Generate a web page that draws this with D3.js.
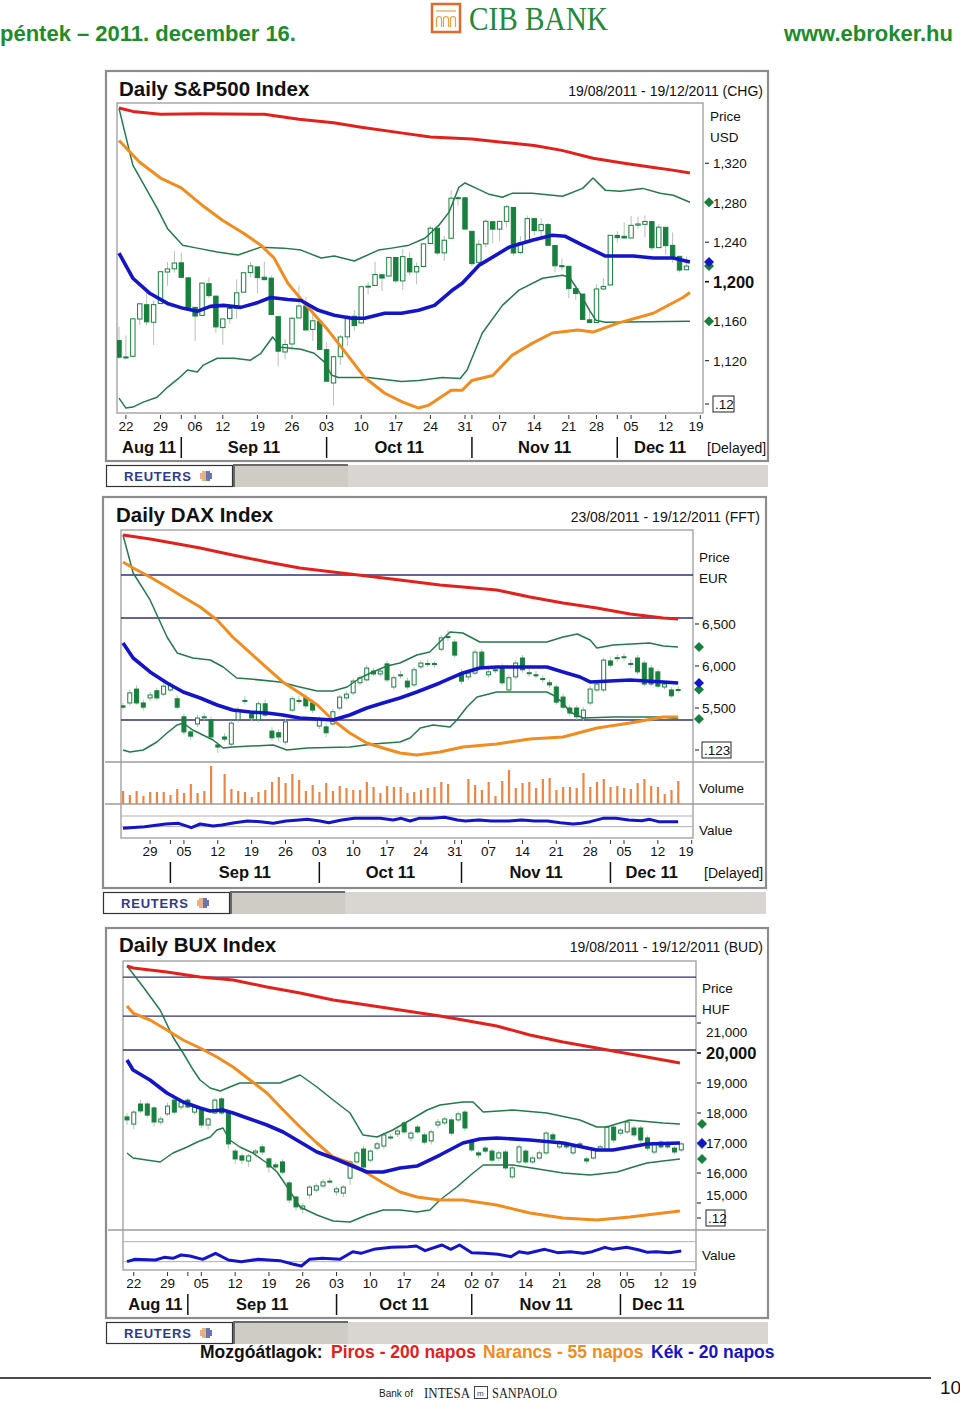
<!DOCTYPE html>
<html><head><meta charset="utf-8">
<script src="https://cdn.jsdelivr.net/npm/d3@7"></script>
<style>body{margin:0;background:#fff}svg{display:block}</style>
</head><body>
<svg id="c" width="960" height="1403"></svg>
<script>
// ===================== DATA =====================
// S&P500 daily candles [open, high, low, close], 19 Aug - 15 Dec 2011 (trading-day index 0..82)
const spCandles = [
[1140.5,1154.5,1122.0,1123.5],[1123.6,1145.5,1121.1,1123.8],[1124.4,1162.4,1124.4,1162.4],[1162.2,1178.6,1156.3,1177.6],
[1176.7,1190.7,1155.5,1159.3],[1158.9,1181.2,1135.9,1176.8],[1177.9,1210.1,1177.9,1210.1],[1209.8,1220.1,1195.8,1212.9],
[1213.0,1230.7,1209.4,1218.9],[1219.1,1229.3,1203.9,1204.4],[1203.9,1203.9,1170.6,1174.0],[1174.0,1174.0,1140.1,1165.2],
[1165.9,1198.6,1165.9,1198.6],[1198.0,1204.4,1183.3,1185.9],[1185.4,1185.4,1148.4,1154.2],[1153.5,1162.5,1136.1,1162.3],
[1162.6,1176.4,1157.4,1172.9],[1173.3,1202.4,1162.7,1188.7],[1189.4,1209.1,1189.4,1209.1],[1209.2,1220.1,1204.5,1216.0],
[1215.0,1215.0,1188.4,1204.1],[1204.5,1220.4,1201.3,1202.1],[1203.6,1206.3,1166.2,1166.8],[1164.6,1164.6,1114.2,1129.6],
[1128.8,1141.7,1121.4,1136.4],[1136.9,1164.2,1131.1,1163.0],[1163.3,1195.9,1163.3,1175.4],[1175.4,1184.7,1150.4,1151.1],
[1151.7,1175.9,1139.9,1160.4],[1159.9,1159.9,1131.3,1131.4],[1131.2,1139.0,1098.9,1099.2],[1097.4,1125.1,1074.8,1124.0],
[1124.0,1146.1,1115.7,1144.0],[1144.1,1165.6,1135.0,1165.0],[1165.0,1171.4,1150.3,1155.5],[1158.2,1194.9,1158.2,1194.9],
[1194.6,1199.2,1187.3,1195.5],[1196.2,1220.3,1196.2,1207.3],[1207.0,1207.5,1190.6,1203.7],[1205.7,1224.6,1205.7,1224.6],
[1224.5,1224.5,1198.6,1200.9],[1200.8,1233.1,1191.5,1225.4],[1223.5,1229.6,1206.3,1209.9],[1209.9,1219.5,1197.3,1215.4],
[1215.4,1239.0,1215.4,1238.3],[1238.7,1256.6,1238.7,1254.2],[1254.2,1254.2,1226.8,1229.1],[1229.2,1246.3,1221.1,1242.0],
[1244.0,1292.7,1244.0,1284.6],[1284.4,1287.1,1277.0,1285.1],[1285.0,1285.0,1253.2,1253.3],[1251.0,1251.0,1215.4,1218.3],
[1219.6,1242.5,1219.6,1237.9],[1238.3,1263.2,1234.8,1261.2],[1260.8,1260.8,1238.9,1253.2],[1253.2,1261.7,1240.8,1261.1],
[1261.1,1277.6,1255.0,1275.9],[1275.2,1275.2,1226.6,1229.1],[1229.6,1246.2,1227.7,1239.7],[1240.1,1267.0,1240.1,1263.9],
[1263.9,1263.9,1246.7,1251.8],[1251.7,1264.3,1244.3,1257.8],[1257.8,1259.6,1235.7,1236.9],[1236.6,1237.7,1209.4,1216.1],
[1216.2,1223.5,1211.4,1215.7],[1215.6,1215.6,1183.2,1193.0],[1193.0,1196.8,1181.7,1188.0],[1187.5,1187.5,1161.8,1161.8],
[1161.4,1172.7,1158.7,1158.7],[1158.7,1197.4,1158.7,1192.6],[1192.6,1203.7,1191.8,1195.2],[1196.7,1247.1,1196.7,1247.0],
[1246.9,1251.1,1239.7,1244.6],[1246.0,1260.1,1243.4,1244.3],[1244.3,1266.7,1244.3,1257.1],[1257.2,1266.0,1253.0,1258.5],
[1258.1,1267.1,1244.8,1261.0],[1260.9,1260.9,1231.5,1234.4],[1234.5,1258.3,1234.5,1255.2],[1255.1,1255.1,1227.3,1236.5],
[1236.8,1249.9,1219.4,1225.7],[1225.7,1225.7,1209.5,1211.8],[1212.1,1225.6,1212.1,1215.8]
];
// moving averages / bands: [trading-day index, value]
const spMA200 = [[0,1376],[2,1372.5],[6,1369.5],[12,1370],[21,1369.5],[23,1367.5],[26,1364.5],[31,1361],[35,1356.5],[41,1350.5],[45,1346.5],[48,1345.5],[51,1344.5],[55,1341.5],[60,1338],[64,1333],[68.5,1325],[73,1320],[77,1316],[80,1313],[82.5,1310]];
const spMA55 = [[0,1343],[3,1321],[6,1305],[9,1295],[12,1277.5],[15,1262],[18,1249],[20.5,1237],[22.4,1224],[24.4,1198.5],[27.3,1174],[30.2,1151],[32.1,1134],[35.5,1103],[38.4,1087],[41,1078],[43.3,1072],[44.8,1075],[48,1090],[49.6,1090],[51,1100],[54,1105],[56.8,1125.5],[59.7,1137.5],[62.6,1148],[66.3,1151],[68.5,1149],[72.1,1158],[77.2,1168],[81.5,1184],[82.5,1189]];
const spMA20 = [[0,1229],[2,1203.5],[4.5,1188],[7,1178],[9.3,1173],[11.3,1170],[13.2,1175],[15.1,1176],[17.6,1174],[20.1,1179],[21.9,1184],[24.4,1182],[26.3,1181],[28.8,1171],[31.1,1166],[33.6,1163],[35.5,1163],[38.4,1168],[40.8,1168],[43.3,1171],[45.6,1176],[48.1,1191],[49.6,1198.5],[52,1216.5],[56.4,1235],[59.7,1242],[62.6,1247],[64.5,1246],[67,1237],[70.3,1226],[74.3,1226],[77.2,1224],[80.1,1224],[82.5,1220]];
const spBBUpper = [[0,1375.5],[2,1318],[5.5,1274.5],[7,1254],[9.2,1237],[11.3,1234],[14.2,1230],[17.2,1227],[20.5,1235],[23.8,1234],[26.3,1232],[29.2,1224],[31.1,1226],[34,1221],[37.5,1232],[39.4,1234],[41.9,1237],[44.2,1244],[46.2,1257],[47.7,1270.5],[49.1,1295.5],[50,1300],[51.5,1295],[53.5,1288.5],[55.4,1285.5],[56.8,1289.5],[59.7,1289.5],[64.1,1286.5],[67,1294.5],[68.5,1305],[70.3,1292.5],[72.4,1291.5],[75.7,1294.5],[78.2,1289.5],[80.1,1287.5],[82.5,1280.5]];
const spBBLower = [[0,1082],[1,1072],[2,1073],[3.5,1078],[5.5,1083],[7,1093],[8.6,1102],[9.9,1110.5],[11.3,1108.5],[12.2,1115.5],[14.2,1122.5],[16.6,1122.5],[19,1120.5],[20.5,1127.5],[22.2,1144],[23.4,1133.5],[26.3,1131.5],[28.2,1127.5],[29.7,1118.5],[30.7,1105.5],[31.7,1103],[36,1103],[40.8,1099],[43.3,1100],[46.7,1103],[49.3,1102],[50.3,1110.5],[52.5,1148],[55.4,1176],[57.8,1191.5],[61.2,1203.5],[64.1,1206.5],[65.1,1204.5],[66.6,1188.5],[68,1171],[68.9,1161],[70.3,1159],[82.5,1160]];
const spPriceTicks = [1320,1280,1240,1200,1160,1120];
const spBoldTick = 1200;
const spDayLabels = ["22","29","06","12","19","26","03","10","17","24","31","07","14","21","28","05","12","19"];
const spDayIdx = [1,6,11,15,20,25,30,35,40,45,50,55,60,65,69,74,79,84];
const spMonthLabels = ["Aug 11","Sep 11","Oct 11","Nov 11","Dec 11"];
const spMonthStart = [9,30,51,72];

// DAX candles [open, high, low, close], 23 Aug - 15 Dec 2011
const daxCandles = [
[5525,5560,5480,5510],[5560,5720,5530,5680],[5725,5770,5540,5560],[5560,5600,5470,5510],[5620,5690,5580,5655],
[5705,5740,5590,5620],[5665,5790,5640,5760],[5715,5810,5690,5775],[5610,5650,5480,5510],[5395,5430,5180,5215],
[5215,5260,5120,5165],[5310,5420,5270,5380],[5385,5440,5350,5395],[5360,5400,5120,5155],[5060,5100,4965,5035],
[5155,5200,5100,5130],[5070,5350,5040,5320],[5360,5510,5330,5475],[5580,5640,5540,5590],[5430,5470,5340,5380],
[5360,5580,5330,5550],[5550,5600,5390,5415],[5225,5270,5110,5145],[5205,5250,5100,5155],[5095,5370,5060,5335],
[5475,5640,5450,5610],[5590,5650,5550,5580],[5620,5670,5490,5525],[5560,5600,5440,5475],[5285,5400,5250,5370],
[5275,5320,5150,5205],[5310,5490,5280,5455],[5500,5660,5470,5630],[5620,5700,5590,5665],[5680,5850,5650,5820],
[5800,5890,5770,5860],[5835,6010,5810,5975],[5940,5980,5880,5905],[5905,5970,5870,5940],[6025,6060,5810,5835],
[5750,5890,5720,5860],[5890,5940,5850,5895],[5820,5860,5720,5750],[5775,5990,5750,5955],[5990,6070,5960,6035],
[6030,6080,5990,6020],[6020,6060,5980,6030],[6200,6370,6170,6335],[6340,6430,6300,6350],[6285,6320,6100,6130],
[5915,5960,5780,5820],[5870,5950,5830,5915],[5915,6200,5890,6165],[6165,6200,5960,5990],[5895,5970,5860,5930],
[5950,6000,5910,5955],[5990,6030,5770,5800],[5715,5890,5690,5860],[5870,6070,5840,6035],[6095,6130,5920,5955],
[5915,5970,5870,5920],[5895,5940,5850,5890],[5850,5890,5800,5845],[5800,5840,5740,5775],[5750,5780,5540,5570],
[5630,5670,5480,5510],[5500,5540,5410,5440],[5500,5530,5360,5395],[5380,5510,5350,5475],[5560,5760,5530,5725],
[5715,5820,5690,5785],[5715,6100,5690,6070],[6060,6110,5980,6010],[6090,6140,6050,6100],[6100,6150,6060,6110],
[6030,6080,5980,6020],[6095,6130,5900,5930],[6035,6070,5760,5785],[5975,6010,5760,5785],[5930,5960,5740,5760],
[5750,5820,5720,5785],[5715,5750,5620,5645],[5710,5760,5680,5720]
];
const daxMA200 = [[0,7560],[4,7512],[6.5,7476],[11.4,7405],[16.2,7321],[21.3,7238],[26.1,7167],[31,7119],[36,7071],[40.9,7024],[46.8,6964],[50.2,6940],[55.2,6905],[60.1,6821],[65,6750],[70,6690],[74.9,6619],[79.8,6571],[82,6560]];
const daxMA55 = [[0,7238],[1.5,7167],[4,7060],[6.5,6940],[8.9,6821],[11.4,6702],[13.9,6548],[16.2,6345],[18.8,6155],[21.3,5976],[23.6,5810],[26.1,5679],[28.7,5536],[31,5357],[33.5,5202],[36,5083],[38.4,5024],[40.9,4964],[43.4,4940],[46.8,4976],[50.2,5036],[55.2,5071],[60.1,5131],[65,5155],[70,5262],[74.9,5321],[79.8,5393],[82,5393]];
const daxMA20 = [[0,6274],[1.5,6095],[4,5929],[6.5,5798],[8.9,5690],[11.4,5619],[13.9,5536],[16.2,5476],[18.8,5452],[21.3,5440],[23.6,5417],[26.1,5381],[28.7,5369],[31,5357],[33.5,5417],[36,5500],[38.4,5560],[40.9,5619],[43.4,5690],[46.8,5798],[50.2,5917],[52.7,5976],[55.2,5988],[62.6,5988],[65,5929],[67.5,5869],[69,5810],[74.9,5833],[79.8,5810],[82,5798]];
const daxBBUpper = [[0,7559],[1.5,7107],[4,6786],[6.5,6345],[8,6155],[10.3,6095],[12.9,6071],[14.8,5988],[16.8,5857],[18.8,5845],[23.2,5810],[26.1,5750],[28.7,5702],[31,5702],[33.1,5750],[35,5857],[36.9,5929],[39,6000],[40.9,6036],[43.4,6131],[45.3,6167],[46.8,6286],[48.3,6405],[50.2,6393],[52.7,6286],[62.6,6286],[65,6345],[67.1,6381],[69,6310],[70,6214],[72.4,6250],[77.8,6274],[79.8,6238],[82,6226]];
const daxBBLower = [[0,5000],[1,4976],[3,5000],[5,5095],[6.5,5202],[8,5298],[8.9,5321],[10.3,5238],[11.8,5179],[13.3,5119],[14.8,5024],[16.2,5036],[22.2,5060],[24.2,5000],[27.2,5024],[33.5,5036],[36.9,5071],[40.9,5095],[42.4,5143],[43.9,5262],[45.8,5298],[48.3,5274],[49.3,5357],[50.8,5512],[52.3,5631],[55.2,5690],[62.6,5690],[63.5,5655],[65,5560],[66,5452],[68,5381],[72.4,5393],[79.8,5393],[82,5369]];
const daxLevels = [7083,6571,5357];
const daxVolume = [13,9,13,8,12,12,12,9,15,11,20,11,13,38,null,30,15,13,12,7,12,14,22,27,21,30,24,13,19,12,21,13,18,16,14,14,22,17,11,18,17,17,11,12,14,16,17,22,20,null,null,25,19,14,22,8,23,34,16,21,22,16,25,26,14,17,17,16,31,17,22,25,17,18,16,15,21,25,18,17,10,14,23];
const daxValue = [[0,29],[3.2,34],[6.3,42],[8.2,44],[10.1,31],[11.4,42],[13.3,36],[14.6,39],[16.5,46],[18.4,51],[20.3,49],[22.2,44],[24.1,51],[26,54],[27.2,56],[29.1,51],[30.4,46],[32.3,54],[34.2,59],[36.1,59],[38,59],[39.9,54],[41.1,59],[42.4,51],[43.7,59],[45.6,59],[47.5,62],[49.4,54],[50.6,51],[52.5,54],[54.4,51],[57,51],[58.9,54],[60.8,51],[62.7,51],[64.6,46],[66.5,42],[67.7,44],[69,49],[70.9,59],[72.8,59],[74.7,54],[76.6,52],[77.8,56],[79.1,49],[82,49]];
const daxValueRefs = [66,34];
const daxPriceTicks = [6500,6000,5500];
const daxDayLabels = ["29","05","12","19","26","03","10","17","24","31","07","14","21","28","05","12","19"];
const daxDayIdx = [4,9,14,19,24,29,34,39,44,49,54,59,64,69,74,79,84];
const daxMonthLabels = ["","Sep 11","Oct 11","Nov 11","Dec 11"];
const daxMonthStart = [7,29,50,72];

// BUX candles [open, high, low, close], 19 Aug - 15 Dec 2011
const buxCandles = [
[17870,18000,17600,17770],[17630,18100,17450,18030],[18300,18450,18000,18070],[18300,18380,17850,17930],[18170,18230,17550,17700],
[17700,17900,17600,17800],[17970,18350,17900,18230],[18430,18500,17950,18030],[18200,18470,18100,18370],[18430,18500,18150,18200],
[18030,18250,17950,18200],[18100,18150,17500,17600],[17600,17850,17450,17800],[18000,18500,17950,18430],[18470,18530,17950,18000],
[18000,18050,16800,16970],[16730,16800,16300,16470],[16570,16650,16300,16430],[16400,16650,16200,16570],[16670,16800,16550,16730],
[16870,16950,16600,16700],[16470,16520,16000,16200],[16270,16350,16100,16200],[16370,16450,15950,16030],[15670,15750,15000,15100],
[15200,15250,14750,14870],[14800,15000,14650,14900],[15270,15600,15150,15530],[15430,15650,15350,15570],[15570,15800,15500,15700],
[15730,15850,15650,15700],[15370,15550,15250,15470],[15330,15600,15200,15530],[15830,16450,15600,16370],[16370,16750,16300,16670],
[16800,16900,16100,16200],[16430,16800,16350,16730],[16830,17050,16750,16970],[16900,17350,16800,17270],[17200,17300,17100,17170],
[17300,17480,17200,17400],[17670,17750,17300,17370],[17170,17400,17050,17330],[17530,17600,17300,17370],[17270,17350,16950,17030],
[17070,17450,16950,17370],[17600,17800,17500,17700],[17670,17880,17600,17800],[17770,17850,17250,17330],[17770,18050,17700,17970],
[18030,18100,17400,17500],[17030,17100,16700,16770],[16670,16750,16500,16600],[16830,16900,16650,16730],[16730,16800,16350,16430],
[16500,16750,16400,16670],[16700,16780,16100,16170],[15870,16250,15800,16170],[16370,16950,16300,16870],[16730,16800,16300,16370],
[16370,16580,16300,16500],[16500,16750,16420,16670],[16670,17400,16600,17330],[17270,17350,17050,17130],[16870,17100,16800,17030],
[17000,17080,16800,16870],[16670,16950,16600,16870],[16970,17050,16880,16930],[16470,16550,16300,16400],[16500,16850,16450,16770],
[16770,16950,16700,16870],[16770,17600,16700,17530],[17530,17620,17000,17100],[17330,17500,17250,17430],[17370,17800,17300,17700],
[17500,17580,17200,17270],[17500,17570,17000,17100],[17170,17250,16750,16830],[16700,17050,16620,16970],[17030,17100,16800,16870],
[17000,17080,16800,16870],[16830,16900,16620,16700],[16770,17050,16700,16970]
];
const buxMA200 = [[0,22900],[0.9,22833],[5.9,22700],[10.8,22533],[15.7,22433],[20.7,22200],[25.6,22000],[30.5,21767],[35.5,21600],[40.4,21433],[46.3,21233],[49.7,21100],[54.7,20900],[59.6,20600],[64.5,20367],[69.5,20167],[71.9,20067],[76.9,19867],[81.8,19667]];
const buxMA55 = [[0,21567],[0.9,21333],[3.4,21100],[5.9,20767],[8.3,20433],[10.8,20167],[13.3,19867],[15.7,19533],[18.2,19100],[20.7,18667],[23.1,18100],[25.6,17533],[28.1,17000],[30.5,16533],[33,16333],[35.5,16000],[37.9,15667],[40.4,15367],[42.9,15200],[46.3,15100],[49.7,15100],[54.7,14933],[59.6,14667],[64.5,14500],[69.5,14433],[74.4,14533],[79.3,14667],[81.8,14733]];
const buxMA20 = [[0,19767],[0.9,19433],[3.4,19100],[5.9,18667],[8.3,18367],[10.8,18167],[12.3,18067],[14.2,18100],[15.7,18000],[18.2,17800],[20.7,17600],[23.1,17367],[25.6,17033],[28.1,16700],[30.5,16500],[33,16267],[35.5,16033],[37.9,16033],[40.4,16167],[42.9,16233],[46.3,16600],[49.7,17000],[52.2,17133],[54.7,17167],[59.6,17100],[64.5,17000],[69.5,16767],[71.9,16767],[76.9,16967],[81.8,17000]];
const buxBBUpper = [[0,22900],[2.4,22200],[4.9,21433],[6.8,20533],[8.3,20000],[9.8,19433],[10.8,19100],[12.3,18833],[13.8,18733],[15.2,18867],[16.7,19000],[22.6,19000],[25.6,19267],[28.1,18867],[30.5,18433],[33,18000],[34.9,17267],[37,17200],[39.3,17433],[41.9,17767],[44.4,18100],[46.3,18267],[49.7,18367],[51.2,18367],[52.7,18033],[57.1,18100],[62.1,18000],[67,17767],[69.5,17533],[71,17533],[71.9,17600],[74.4,17767],[79.3,17667],[81.8,17633]];
const buxBBLower = [[0,16667],[0.9,16500],[4.9,16367],[6.8,16667],[8.9,16867],[10.4,17033],[12.3,17200],[13.3,17433],[14.2,17500],[15.2,17100],[16.7,16867],[18.6,16667],[20.7,16333],[22.2,16033],[23.7,15533],[25.6,14867],[28.1,14600],[30.5,14400],[33,14367],[35.5,14600],[37.9,14767],[40.4,14767],[42.9,14700],[44.8,14767],[46.3,15100],[48.8,15533],[51.2,16000],[52.7,16267],[57.1,16267],[64.5,16000],[68.5,15933],[72.5,16033],[74.4,16167],[76.9,16333],[79.3,16400],[81.8,16467]];
const buxLevels = [22530,21230,20100];
const buxValue = [[0,25],[1.1,32],[4.2,30],[5.5,38],[6.8,35],[8,45],[9.3,42],[11.2,32],[13.1,50],[15,30],[16.9,25],[19.4,32],[22.6,28],[24.5,18],[25.8,12],[27,32],[28.9,35],[31.5,32],[33.4,55],[34.6,50],[36.5,62],[39.1,68],[41.6,70],[42.8,72],[44.1,58],[46.6,75],[47.9,62],[49.2,75],[51,52],[52.9,50],[54.9,47],[56.8,40],[58,55],[59.3,50],[61.8,62],[63.7,52],[65.6,55],[67.5,50],[68.8,55],[70.7,68],[71.9,62],[73.9,68],[75.8,60],[77,53],[78.3,55],[80.2,52],[82,57]];
const buxValueRefs = [85,25];
const buxPriceTicks = [21000,20000,19000,18000,17000,16000,15000];
const buxBoldTick = 20000;
const buxDayLabels = ["22","29","05","12","19","26","03","10","17","24","02","07","14","21","28","05","12","19"];
const buxDayIdx = [1,6,11,16,21,26,31,36,41,46,51,54,59,64,69,74,79,84];
const buxMonthLabels = ["Aug 11","Sep 11","Oct 11","Nov 11","Dec 11"];
const buxMonthStart = [9,31,51,73];

// ===================== DRAWING =====================
const FONT = '"Liberation Sans", Arial, Helvetica, sans-serif';
const C = {green:"#17803d", band:"#237a4a", red:"#e3211c", orange:"#f28c1e", blue:"#1414c8",
           navy:"#30307a", wick:"#b8c0bb", vol:"#ec8645", text:"#111"};
const svg = d3.select("#c").attr("font-family", FONT);
const defs = svg.append("defs");

function drawPanel(L, D, id){
  const g = svg.append("g");
  const P = L.plot;
  g.append("rect").attr("x",L.frame.x).attr("y",L.frame.y).attr("width",L.frame.w).attr("height",L.frame.h)
    .attr("fill","#fff").attr("stroke","#8c8c8c").attr("stroke-width",2.2);
  g.append("text").attr("x",L.titleX).attr("y",L.titleY).attr("font-size",20.5).attr("font-weight","bold")
    .attr("fill",C.text).text(D.title);
  g.append("text").attr("x",L.rangeX).attr("y",L.titleY).attr("text-anchor","end").attr("font-size",14)
    .attr("fill",C.text).text(D.range);

  const x = d3.scaleLinear().domain([0,84]).range(L.xRange);
  const y = d3.scaleLinear().domain(L.priceDomain).range([L.priceBottom, P.y0]);

  defs.append("clipPath").attr("id","clip"+id).append("rect")
    .attr("x",P.x0).attr("y",P.y0).attr("width",P.x1-P.x0).attr("height",L.priceBottom-P.y0);

  g.append("rect").attr("x",P.x0).attr("y",P.y0).attr("width",P.x1-P.x0).attr("height",P.y1-P.y0)
    .attr("fill","none").attr("stroke","#9c9c9c").attr("stroke-width",1.3);
  (L.separators||[]).forEach(sy=>{
    g.append("line").attr("x1",L.frame.x+2).attr("x2",L.frame.x+L.frame.w-2).attr("y1",sy).attr("y2",sy)
      .attr("stroke","#9c9c9c").attr("stroke-width",1.3);
  });

  const pg = g.append("g").attr("clip-path",`url(#clip${id})`);
  (D.levels||[]).forEach(v=>{
    pg.append("line").attr("x1",P.x0).attr("x2",P.x1).attr("y1",y(v)).attr("y2",y(v))
      .attr("stroke",C.navy).attr("stroke-width",1.4);
  });

  // candles
  const cw = L.candleW;
  D.candles.forEach((c,i)=>{
    const [o,h,l,cl] = c, cx = x(i);
    pg.append("line").attr("x1",cx).attr("x2",cx).attr("y1",y(h)).attr("y2",y(l))
      .attr("stroke",C.wick).attr("stroke-width",1);
    const top = y(Math.max(o,cl)), bot = y(Math.min(o,cl));
    const up = cl >= o;
    pg.append("rect").attr("x",cx-cw/2).attr("y",top).attr("width",cw).attr("height",Math.max(1,bot-top))
      .attr("fill", up ? "#fff" : C.green).attr("stroke",C.green).attr("stroke-width",1);
  });

  const line = d3.line().x(d=>x(d[0])).y(d=>y(d[1]));
  [[D.bbUp,C.band,1.5],[D.bbLow,C.band,1.5],[D.ma200,C.red,3],[D.ma55,C.orange,3],[D.ma20,C.blue,3.6]]
    .forEach(([data,col,w])=>{
      pg.append("path").datum(data).attr("d",line).attr("fill","none").attr("stroke",col)
        .attr("stroke-width",w).attr("stroke-linejoin","round");
    });

  // right axis
  const ax = L.axis;
  ax.units.forEach((u,k)=>{
    g.append("text").attr("x",ax.unitX).attr("y",u).attr("font-size",13.5).attr("fill",C.text).text(D.units[k]);
  });
  D.ticks.forEach((t,k)=>{
    const ty = y(t);
    const bold = t === D.boldTick;
    g.append("line").attr("x1",ax.dash[0]).attr("x2",ax.dash[1]).attr("y1",ty).attr("y2",ty)
      .attr("stroke",C.text).attr("stroke-width",bold?1.6:1);
    g.append("text").attr("x",ax.labelX).attr("y",ty+(bold?6:5)+(ax.labelDy?ax.labelDy[k]:0))
      .attr("font-size",bold?16.5:13.5).attr("font-weight",bold?"bold":"normal").attr("fill",C.text)
      .text(d3.format(",")(t));
  });
  // boxed label
  g.append("line").attr("x1",ax.dash[0]).attr("x2",ax.dash[1]).attr("y1",ax.box.y).attr("y2",ax.box.y).attr("stroke",C.text);
  g.append("rect").attr("x",ax.labelX).attr("y",ax.box.y-8).attr("width",ax.box.w).attr("height",16)
    .attr("fill","#fff").attr("stroke","#222").attr("stroke-width",1);
  g.append("text").attr("x",ax.labelX+2).attr("y",ax.box.y+5).attr("font-size",13.5).attr("fill",C.text).text(D.boxLabel);

  // last-value diamonds
  const last = a => a[a.length-1][1];
  const dia = (v,col)=>{
    const dx = P.x1+ax.diamondDx, dy = y(v), r = 5;
    g.append("path").attr("d",`M${dx},${dy-r}L${dx+r},${dy}L${dx},${dy+r}L${dx-r},${dy}Z`).attr("fill",col);
  };
  dia(last(D.bbUp),C.green); dia(D.candles[D.candles.length-1][3],C.green);
  dia(last(D.ma20),C.blue); dia(last(D.bbLow),C.green);

  // volume sub panel
  if (D.volume){
    const yv = d3.scaleLinear().domain([0,42]).range([L.vol[1],L.vol[0]]);
    D.volume.forEach((v,i)=>{
      if (v==null) return;
      g.append("rect").attr("x",x(i)-1).attr("y",yv(v)).attr("width",2.2).attr("height",L.vol[1]-yv(v)).attr("fill",C.vol);
    });
    g.append("text").attr("x",ax.unitX).attr("y",L.volLabelY).attr("font-size",13.5).attr("fill",C.text).text("Volume");
  }
  // value sub panel
  if (D.value){
    const yl = d3.scaleLinear().domain(L.valDomain).range([L.val[1],L.val[0]]);
    D.valueRefs.forEach(r=>{
      g.append("line").attr("x1",P.x0).attr("x2",P.x1).attr("y1",yl(r)).attr("y2",yl(r)).attr("stroke","#b0b0b0").attr("stroke-width",1);
    });
    g.append("path").datum(D.value).attr("d",d3.line().x(d=>x(d[0])).y(d=>yl(d[1])))
      .attr("fill","none").attr("stroke",C.blue).attr("stroke-width",3).attr("stroke-linejoin","round");
    g.append("text").attr("x",ax.unitX).attr("y",L.valLabelY).attr("font-size",13.5).attr("fill",C.text).text("Value");
  }

  // x axis
  const ay = P.y1;
  const tickX = i => Math.min(x(i), P.x1-7);
  D.dayIdx.forEach((di,k)=>{
    g.append("line").attr("x1",x(di)).attr("x2",x(di)).attr("y1",ay+2).attr("y2",ay+6).attr("stroke","#333");
    g.append("text").attr("x",tickX(di)).attr("y",ay+18).attr("text-anchor","middle").attr("font-size",13.5)
      .attr("fill",C.text).text(D.dayLabels[k]);
  });
  const bounds = [P.x0].concat(D.monthStart.map(m=>x(m))).concat([P.x1]);
  D.monthStart.forEach(m=>{
    g.append("line").attr("x1",x(m)).attr("x2",x(m)).attr("y1",ay+2).attr("y2",ay+6).attr("stroke","#333");
    g.append("line").attr("x1",x(m)).attr("x2",x(m)).attr("y1",ay+24).attr("y2",ay+45).attr("stroke","#111").attr("stroke-width",1.5);
  });
  D.monthLabels.forEach((ml,k)=>{
    g.append("text").attr("x",(bounds[k]+bounds[k+1])/2).attr("y",ay+40).attr("text-anchor","middle")
      .attr("font-size",16.5).attr("font-weight","bold").attr("fill",C.text).text(ml);
  });
  if (L.delayedX){
    g.append("text").attr("x",L.delayedX).attr("y",ay+40).attr("font-size",14).attr("fill",C.text).text("[Delayed]");
  }

  // Reuters strip
  const sy = L.frame.y + L.frame.h + 4, sx = L.frame.x;
  g.append("rect").attr("x",sx+242).attr("y",sy).attr("width",L.frame.w-242).attr("height",22).attr("fill","#d9d6d1");
  g.append("rect").attr("x",sx+128).attr("y",sy).attr("width",114).attr("height",22).attr("fill","#cfccc6");
  g.append("path").attr("d",`M${sx+128},${sy+22}V${sy}H${sx+242}`).attr("fill","none").attr("stroke","#6a6a6a").attr("stroke-width",2);
  g.append("rect").attr("x",sx+0.5).attr("y",sy+0.5).attr("width",126).attr("height",21).attr("fill","#fff").attr("stroke","#333").attr("stroke-width",1.2);
  g.append("text").attr("x",sx+18).attr("y",sy+16).attr("font-size",13).attr("font-weight","bold")
    .attr("letter-spacing",0.8).attr("fill","#2b3a92").text("REUTERS");
  const lcx = sx+100, lcy = sy+11;
  for (let gx=-5; gx<=5; gx+=2) for (let gy=-6; gy<=6; gy+=2){
    if (gx*gx+gy*gy>36) continue;
    g.append("circle").attr("cx",lcx+gx).attr("cy",lcy+gy).attr("r",0.95)
      .attr("fill", gx<0 ? "#e0904a" : "#2b3a92");
  }
}

// ----- layouts -----
drawPanel({
  frame:{x:106,y:71,w:662,h:390}, titleX:119, titleY:96, rangeX:763,
  plot:{x0:117,y0:103,x1:703,y1:413}, priceBottom:413,
  xRange:[119,700.3], priceDomain:[1067,1381], candleW:4.4,
  axis:{unitX:710, units:[121,142], labelX:713, dash:[705,709], box:{y:404,w:21}, diamondDx:6},
  delayedX:707
},{
  title:"Daily S&P500 Index", range:"19/08/2011 - 19/12/2011 (CHG)", units:["Price","USD"], boxLabel:".12",
  candles:spCandles, ma200:spMA200, ma55:spMA55, ma20:spMA20, bbUp:spBBUpper, bbLow:spBBLower,
  ticks:spPriceTicks, boldTick:spBoldTick, dayLabels:spDayLabels, dayIdx:spDayIdx,
  monthLabels:spMonthLabels, monthStart:spMonthStart
},"sp");

drawPanel({
  frame:{x:103,y:497,w:663,h:391}, titleX:116, titleY:522, rangeX:760,
  plot:{x0:121,y0:530,x1:693,y1:838}, priceBottom:762, separators:[762,804],
  xRange:[123,691.7], priceDomain:[4857,7619], candleW:4,
  vol:[762,804], volLabelY:793, val:[804,838], valDomain:[0,102], valLabelY:835,
  axis:{unitX:699, units:[562,583], labelX:702, dash:[695,699], box:{y:750,w:29}, diamondDx:6},
  delayedX:704
},{
  title:"Daily DAX Index", range:"23/08/2011 - 19/12/2011 (FFT)", units:["Price","EUR"], boxLabel:".123",
  candles:daxCandles, ma200:daxMA200, ma55:daxMA55, ma20:daxMA20, bbUp:daxBBUpper, bbLow:daxBBLower,
  levels:daxLevels, volume:daxVolume, value:daxValue, valueRefs:daxValueRefs,
  ticks:daxPriceTicks, boldTick:null, dayLabels:daxDayLabels, dayIdx:daxDayIdx,
  monthLabels:daxMonthLabels, monthStart:daxMonthStart
},"dax");

drawPanel({
  frame:{x:106,y:928,w:662,h:390}, titleX:119, titleY:952, rangeX:763,
  plot:{x0:123,y0:961,x1:696,y1:1270}, priceBottom:1230, separators:[1230],
  xRange:[127,694.8], priceDomain:[14100,23067], candleW:4,
  val:[1230,1270], valDomain:[0,120], valLabelY:1260,
  axis:{unitX:702, units:[993,1014], labelX:706, dash:[697,701], box:{y:1218,w:19}, diamondDx:6,
        labelDy:[9,0,0,0,0,0,-8]}
},{
  title:"Daily BUX Index", range:"19/08/2011 - 19/12/2011 (BUD)", units:["Price","HUF"], boxLabel:".12",
  candles:buxCandles, ma200:buxMA200, ma55:buxMA55, ma20:buxMA20, bbUp:buxBBUpper, bbLow:buxBBLower,
  levels:buxLevels, value:buxValue, valueRefs:buxValueRefs,
  ticks:buxPriceTicks, boldTick:buxBoldTick, dayLabels:buxDayLabels, dayIdx:buxDayIdx,
  monthLabels:buxMonthLabels, monthStart:buxMonthStart
},"bux");

// ----- header -----
const HG = "#1e8c2b";
svg.append("text").attr("x",0).attr("y",41).attr("font-size",22).attr("font-weight","bold").attr("fill",HG)
  .text("péntek – 2011. december 16.");
svg.append("text").attr("x",953).attr("y",41).attr("text-anchor","end").attr("font-size",22).attr("font-weight","bold")
  .attr("fill",HG).text("www.ebroker.hu");
const lg = svg.append("g");
lg.append("rect").attr("x",432).attr("y",4).attr("width",28).attr("height",28).attr("fill","#fff")
  .attr("stroke","#e2692a").attr("stroke-width",2.5);
lg.append("line").attr("x1",436).attr("x2",456).attr("y1",11).attr("y2",11).attr("stroke","#e8a040").attr("stroke-width",1.2);
[439,446,453].forEach(ax=>{
  lg.append("path").attr("d",`M${ax-2.5},27V19a2.5,2.5 0 0 1 5,0V27`).attr("fill","none").attr("stroke","#e8a040").attr("stroke-width",1.2);
});
svg.append("text").attr("x",469).attr("y",30).attr("font-family",'"Liberation Serif", "Times New Roman", serif')
  .attr("font-size",33).attr("textLength",139).attr("lengthAdjust","spacingAndGlyphs")
  .attr("fill","#23893a").text("CIB BANK");

// ----- legend -----
const legend = [["Mozgóátlagok:","#111",200],["Piros - 200 napos",C.red,331],["Narancs - 55 napos",C.orange,483],["Kék - 20 napos",C.blue,651]];
legend.forEach(([t,col,lx])=>{
  svg.append("text").attr("x",lx).attr("y",1358).attr("font-size",17.5).attr("font-weight","bold").attr("fill",col).text(t);
});

// ----- footer -----
svg.append("line").attr("x1",0).attr("x2",931).attr("y1",1378).attr("y2",1378).attr("stroke","#111").attr("stroke-width",1.5);
svg.append("text").attr("x",379).attr("y",1397).attr("font-size",10).attr("fill","#222").text("Bank of");
svg.append("text").attr("x",424).attr("y",1398).attr("font-family",'"Liberation Serif", serif').attr("font-size",14)
  .attr("textLength",46).attr("lengthAdjust","spacingAndGlyphs").attr("fill","#222").text("INTESA");
svg.append("rect").attr("x",474.5).attr("y",1386.5).attr("width",13).attr("height",12).attr("fill","none").attr("stroke","#444");
svg.append("text").attr("x",477).attr("y",1396).attr("font-size",8).attr("fill","#444").text("m");
svg.append("text").attr("x",492).attr("y",1398).attr("font-family",'"Liberation Serif", serif').attr("font-size",14)
  .attr("textLength",65).attr("lengthAdjust","spacingAndGlyphs").attr("fill","#222").text("SANPAOLO");
svg.append("text").attr("x",940).attr("y",1394).attr("font-size",19).attr("fill","#111").text("10");
</script>
</body></html>
